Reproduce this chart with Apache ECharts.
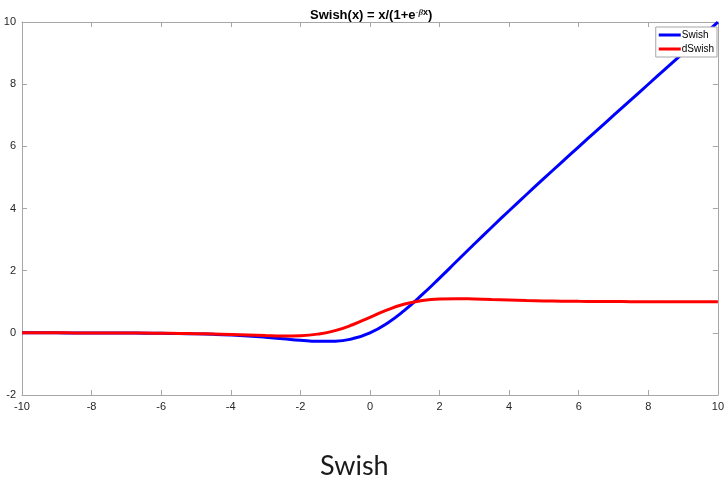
<!DOCTYPE html>
<html>
<head>
<meta charset="utf-8">
<script src="https://cdn.jsdelivr.net/npm/echarts@6/dist/echarts.min.js"></script>
<style>
html, body { margin: 0; padding: 0; background: #fff; }
#chart { width: 727px; height: 482px; }
</style>
</head>
<body>
<div id="chart"></div>
<script>
// x samples and the two curves
const xs = [-10, -9.5, -9, -8.5, -8, -7.5, -7, -6.5, -6, -5.5, -5, -4.5, -4, -3.5, -3, -2.5, -2, -1.5, -1, -0.5,
    0, 0.5, 1, 1.5, 2, 2.5, 3, 3.5, 4, 4.5, 5, 5.5, 6, 6.5, 7, 7.5, 8, 8.5, 9, 9.5, 10]
const swish = [-0.0005, -0.0007, -0.0011, -0.0017, -0.0027, -0.0042, -0.0064, -0.0098, -0.0148, -0.0224,
    -0.0335, -0.0494, -0.0719, -0.1026, -0.1423, -0.1896, -0.2384, -0.2736, -0.2689, -0.1888,
    0, 0.3112, 0.7311, 1.2264, 1.7616, 2.3104, 2.8577, 3.3974, 3.9281, 4.4506,
    4.9665, 5.4776, 5.9852, 6.4902, 6.9936, 7.4959, 7.9973, 8.4983, 8.9989, 9.4993, 9.9995]
const dswish = [-0.0004, -0.0006, -0.0010, -0.0015, -0.0024, -0.0036, -0.0055, -0.0082, -0.0123, -0.0182,
    -0.0266, -0.0379, -0.0527, -0.0703, -0.0881, -0.0994, -0.0908, -0.0413, 0.0723, 0.2600,
    0.5, 0.7400, 0.9277, 1.0413, 1.0908, 1.0994, 1.0881, 1.0703, 1.0527, 1.0379,
    1.0266, 1.0182, 1.0123, 1.0082, 1.0055, 1.0036, 1.0023, 1.0015, 1.0010, 1.0006, 1.0004]
const xTicks = [-10, -8, -6, -4, -2, 0, 2, 4, 6, 8, 10]
const yTicks = [-2, 0, 2, 4, 6, 8, 10]

const axisGray = "#a6a6a6"
const labelColor = "#262626"

function pairs(ys) {
    return xs.map((x, i) => [x, ys[i]])
}

function boxAxis(pos, ticks, showLabel) {
    return {
        type: "value",
        position: pos,
        min: ticks[0],
        max: ticks[ticks.length - 1],
        interval: ticks[1] - ticks[0],
        axisLine: { show: true, onZero: false, lineStyle: { color: axisGray, width: 1 } },
        axisTick: { show: true, inside: true, length: 5, lineStyle: { color: axisGray } },
        axisLabel: {
            show: showLabel,
            color: labelColor,
            fontFamily: "Liberation Sans",
            fontSize: 11,
            margin: 6
        },
        splitLine: { show: false }
    }
}

let myChart = echarts.init(document.getElementById("chart"))
myChart.setOption({
    backgroundColor: "#fff",
    animation: false,
    title: {
        text: "{b|Swish(x) = x/(1+e}{s|-β}{sb|x}{b|)}",
        left: 310,
        top: 8,
        padding: 0,
        textStyle: {
            rich: {
                b: { fontFamily: "Liberation Sans", fontWeight: "bold", fontSize: 13, color: "#000" },
                s: { fontFamily: "Liberation Serif", fontStyle: "italic", fontSize: 9, color: "#333", verticalAlign: "top", padding: [0, 0, 6, 0] },
                sb: { fontFamily: "Liberation Sans", fontWeight: "bold", fontSize: 9, color: "#000", verticalAlign: "top", padding: [0, 0, 6, 0] }
            }
        }
    },
    legend: {
        orient: "vertical",
        right: 10,
        top: 27,
        data: ["Swish", "dSwish"],
        icon: "rect",
        itemWidth: 22,
        itemHeight: 3,
        itemGap: 4,
        padding: [3, 3, 3, 3],
        backgroundColor: "#fff",
        borderColor: "#a6a6a6",
        borderWidth: 1,
        textStyle: { fontFamily: "Liberation Sans", fontSize: 10, color: "#000", padding: [0, 0, 0, -4] }
    },
    grid: {
        left: 22,
        right: 8,
        top: 22,
        bottom: 87,
        containLabel: false
    },
    xAxis: [
        boxAxis("bottom", xTicks, true),
        boxAxis("top", xTicks, false)
    ],
    yAxis: [
        boxAxis("left", yTicks, true),
        boxAxis("right", yTicks, false)
    ],
    graphic: [{
        type: "text",
        left: 320,
        top: 453,
        style: {
            text: "Swish",
            fontFamily: "Lato",
            fontSize: 27,
            fill: "#1a1a1a"
        }
    }],
    series: [
        {
            name: "Swish",
            type: "line",
            data: pairs(swish),
            smooth: true,
            showSymbol: false,
            color: "#0000ff",
            lineStyle: { width: 3, color: "#0000ff" }
        },
        {
            name: "dSwish",
            type: "line",
            data: pairs(dswish),
            smooth: true,
            showSymbol: false,
            color: "#ff0000",
            lineStyle: { width: 3, color: "#ff0000" }
        }
    ]
})
</script>
</body>
</html>
